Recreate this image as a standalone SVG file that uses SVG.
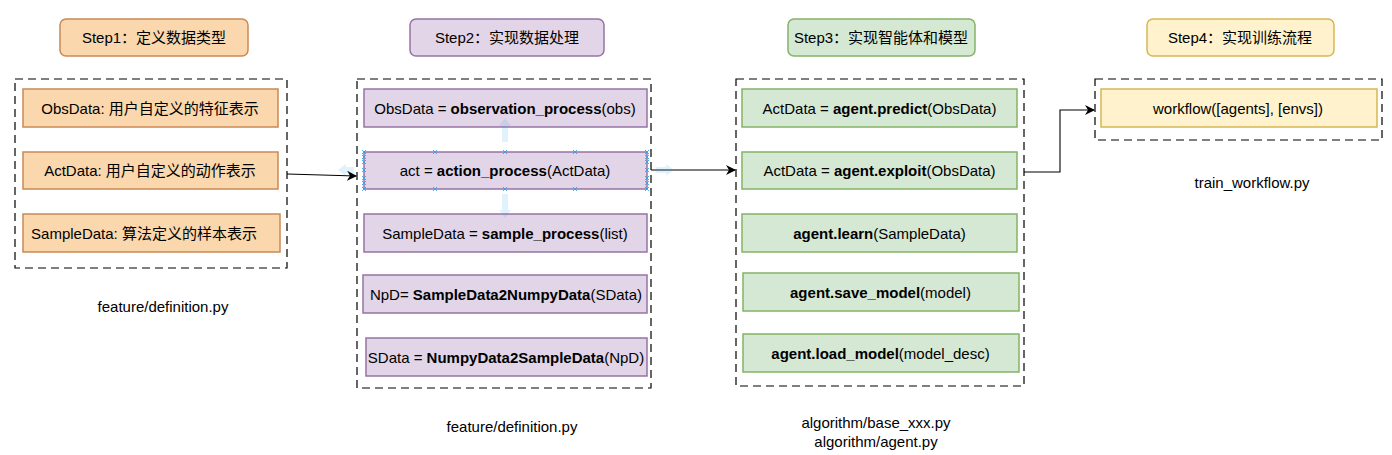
<svg xmlns="http://www.w3.org/2000/svg" width="1392" height="455" viewBox="0 0 1392 455">
<style>
text{font-family:"Liberation Sans","Noto Sans CJK SC",Arial,sans-serif;font-size:15px;fill:#000;text-anchor:middle}
.b{font-weight:bold}
.cont{fill:none;stroke:#000;stroke-width:1.2;stroke-dasharray:8 5}
.or{fill:#fad7ac;stroke:#c98a56;stroke-width:1.5}
.pu{fill:#e1d5e7;stroke:#9673a6;stroke-width:1.5}
.gr{fill:#d5e8d4;stroke:#82b366;stroke-width:1.5}
.ye{fill:#fff2cc;stroke:#d6b656;stroke-width:1.5}
.conn{fill:none;stroke:#000;stroke-width:1.1}
.h{stroke:#29a3f0;stroke-width:1;fill:none}
</style>
<defs>
<marker id="arr" viewBox="0 0 10 10" refX="9" refY="5" markerWidth="10" markerHeight="10" markerUnits="userSpaceOnUse" orient="auto">
<path d="M0,0 L10,5 L0,10 L3,5 Z" fill="#000"/>
</marker>
</defs>
<rect width="1392" height="455" fill="#fff"/>

<!-- Step 1 -->
<g id="step1-title"><rect x="60" y="19" width="188" height="37" rx="6" class="or"/><text x="154" y="43">Step1：定义数据类型</text></g>
<g id="step1-container"><rect x="15" y="79" width="272" height="189" class="cont"/></g>
<g id="obsdata-def"><rect x="23" y="89" width="255" height="38" class="or"/><text x="150" y="113.5">ObsData: 用户自定义的特征表示</text></g>
<g id="actdata-def"><rect x="23" y="152" width="255" height="37" class="or"/><text x="150" y="176">ActData: 用户自定义的动作表示</text></g>
<g id="sampledata-def"><rect x="23" y="214" width="257" height="38" class="or"/><text x="144" y="238.5">SampleData: 算法定义的样本表示</text></g>
<g id="step1-file"><text x="163" y="312">feature/definition.py</text></g>

<!-- Step 2 -->
<g id="step2-title"><rect x="410" y="19" width="194" height="37" rx="6" class="pu"/><text x="507" y="43">Step2：实现数据处理</text></g>
<g id="step2-container"><rect x="357" y="79" width="294" height="309" class="cont"/></g>
<g id="obs-process"><rect x="364" y="89" width="283" height="38" class="pu"/><text x="505" y="113.5">ObsData = <tspan class="b">observation_process</tspan>(obs)</text></g>
<g id="action-process"><rect x="364" y="152" width="283" height="37" class="pu"/><text x="505" y="176">act = <tspan class="b">action_process</tspan>(ActData)</text></g>
<g id="sample-process"><rect x="364" y="214" width="283" height="38" class="pu"/><text x="505" y="238.5">SampleData = <tspan class="b">sample_process</tspan>(list)</text></g>
<g id="sd2np"><rect x="363" y="275" width="284" height="38" class="pu"/><text x="506" y="299.5">NpD= <tspan class="b">SampleData2NumpyData</tspan>(SData)</text></g>
<g id="np2sd"><rect x="366" y="338" width="281" height="38" class="pu"/><text x="506" y="362.5">SData = <tspan class="b">NumpyData2SampleData</tspan>(NpD)</text></g>
<g id="step2-file"><text x="512" y="432">feature/definition.py</text></g>

<!-- Step 3 -->
<g id="step3-title"><rect x="788" y="19" width="187" height="37" rx="6" class="gr"/><text x="881" y="43">Step3：实现智能体和模型</text></g>
<g id="step3-container"><rect x="736" y="79" width="288" height="307" class="cont"/></g>
<g id="predict"><rect x="742" y="89" width="275" height="38" class="gr"/><text x="879.5" y="113.5">ActData = <tspan class="b">agent.predict</tspan>(ObsData)</text></g>
<g id="exploit"><rect x="742" y="152" width="275" height="37" class="gr"/><text x="879.5" y="176">ActData = <tspan class="b">agent.exploit</tspan>(ObsData)</text></g>
<g id="learn"><rect x="742" y="214" width="275" height="38" class="gr"/><text x="879.5" y="238.5"><tspan class="b">agent.learn</tspan>(SampleData)</text></g>
<g id="save-model"><rect x="743" y="273" width="276" height="38" class="gr"/><text x="880.5" y="297.5"><tspan class="b">agent.save_model</tspan>(model)</text></g>
<g id="load-model"><rect x="743" y="334" width="276" height="38" class="gr"/><text x="880.5" y="358.5"><tspan class="b">agent.load_model</tspan>(model_desc)</text></g>
<g id="step3-files"><text x="876" y="428">algorithm/base_xxx.py</text><text x="876" y="447">algorithm/agent.py</text></g>

<!-- Step 4 -->
<g id="step4-title"><rect x="1147" y="19" width="187" height="37" rx="6" class="ye"/><text x="1240" y="43">Step4：实现训练流程</text></g>
<g id="step4-container"><rect x="1095" y="79" width="287" height="61" class="cont"/></g>
<g id="workflow"><rect x="1101" y="89" width="276" height="38" class="ye"/><text x="1238" y="113.5">workflow([agents], [envs])</text></g>
<g id="step4-file"><text x="1252" y="188">train_workflow.py</text></g>

<!-- connectors -->
<g id="connectors">
<path class="conn" d="M287,174 L356,176" marker-end="url(#arr)"/>
<path class="conn" d="M651,170 L735,170" marker-end="url(#arr)"/>
<path class="conn" d="M1024,172 L1060,172 L1060,110 L1094,110" marker-end="url(#arr)"/>
</g>

<!-- editor selection overlay visible in the picture -->
<g id="selection-overlay" opacity="0.85">
<g fill="#29a3f0" opacity="0.15">
<path d="M505,118 L511,126 L508,126 L508,142 L502,142 L502,126 L499,126 Z"/>
<path d="M505,218 L511,210 L508,210 L508,194 L502,194 L502,210 L499,210 Z"/>
<path d="M338,170 L346,164 L346,167 L354,167 L354,173 L346,173 L346,176 Z"/>
<path d="M674,170 L666,164 L666,167 L656,167 L656,173 L666,173 L666,176 Z"/>
</g>
<path class="h" d="M362,150l4,4m0-4l-4,4M433,150l4,4m0-4l-4,4M503,150l4,4m0-4l-4,4M573,150l4,4m0-4l-4,4M645,150l4,4m0-4l-4,4M362,187l4,4m0-4l-4,4M433,187l4,4m0-4l-4,4M503,187l4,4m0-4l-4,4M573,187l4,4m0-4l-4,4M645,187l4,4m0-4l-4,4M362,155l4,4m0-4l-4,4M362,160l4,4m0-4l-4,4M362,168l4,4m0-4l-4,4M362,176l4,4m0-4l-4,4M362,181l4,4m0-4l-4,4M645,155l4,4m0-4l-4,4M645,160l4,4m0-4l-4,4M645,168l4,4m0-4l-4,4M645,176l4,4m0-4l-4,4M645,181l4,4m0-4l-4,4"/>
</g>
</svg>
